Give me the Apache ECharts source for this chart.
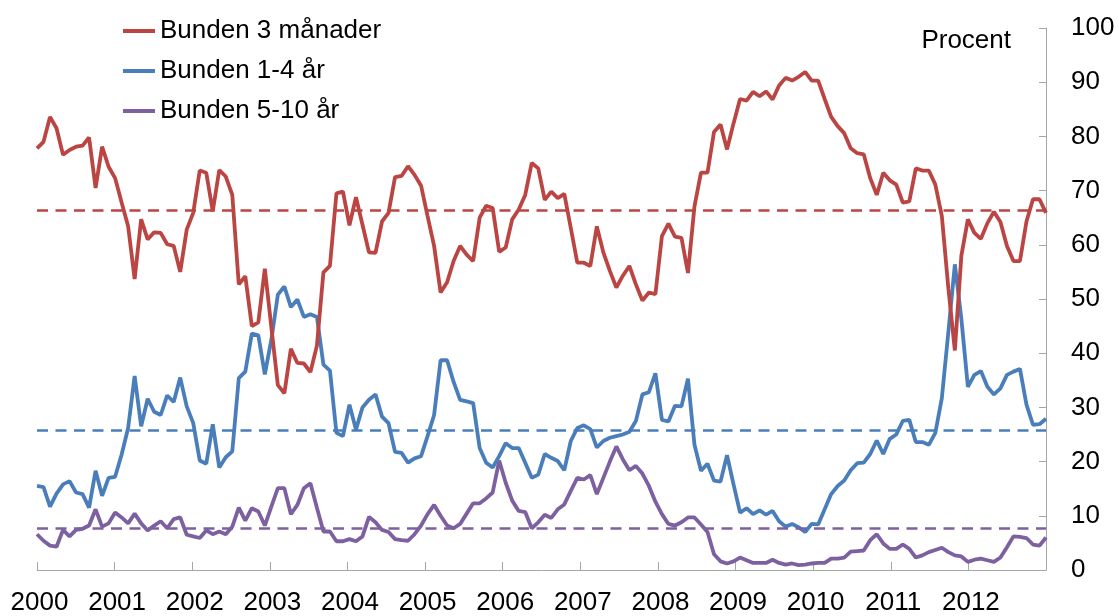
<!DOCTYPE html>
<html>
<head>
<meta charset="utf-8">
<script src="https://cdn.jsdelivr.net/npm/echarts@6/dist/echarts.min.js"></script>
<style>
  html, body { margin: 0; padding: 0; background: #fff; }
</style>
</head>
<body>
<!-- Andel nya bolån per räntebindningstid, 2000-2012 (procent) -->
<div id="chart" style="width:1119px; height:616px"></div>
<script>
// monthly categories 2000-01 .. 2012-12
var months = [];
for (var y = 2000; y <= 2012; y++) {
  for (var m = 1; m <= 12; m++) months.push(y + '-' + (m < 10 ? '0' + m : m));
}

var names = ['Bunden 3 månader', 'Bunden 1-4 år', 'Bunden 5-10 år'];
var colors = ['#BA4542', '#4A7EBB', '#7D60A0'];

var bunden3m = [
  77.8, 79, 83.6, 81.5, 76.6, 77.5, 78.1, 78.3, 79.8, 70.5, 78.1, 74.4,
  72.3, 67.8, 63.4, 53.7, 64.7, 61, 62.3, 62.2, 60.1, 59.8, 55, 62.8,
  65.9, 73.7, 73.3, 66.2, 73.8, 72.6, 69.2, 52.7, 54.2, 45, 45.7, 55.6,
  44.8, 34.1, 32.6, 40.8, 38.2, 38.1, 36.5, 41.4, 54.9, 56.1, 69.5, 69.8,
  63.6, 68.8, 63.7, 58.6, 58.5, 64.3, 65.9, 72.5, 72.7, 74.5, 72.9, 70.9,
  65.3, 59.8, 51.2, 53.1, 57, 59.8, 58.2, 57, 65, 67.2, 66.8, 58.7,
  59.5, 64.7, 66.5, 69.2, 75.1, 74.1, 68.3, 69.8, 68.6, 69.4, 63.1, 56.7,
  56.7, 56.1, 63.4, 58.6, 55.2, 52.1, 54.3, 56.1, 52.7, 49.7, 51.2, 50.9,
  61.6, 63.9, 61.5, 61.3, 54.8, 67.1, 73.3, 73.3, 80.8, 82.2, 77.6, 82.4,
  86.9, 86.6, 88.2, 87.4, 88.3, 86.8, 89.4, 90.8, 90.3, 91, 91.9, 90.3,
  90.3, 86.9, 83.6, 81.9, 80.6, 77.8, 76.9, 76.7, 72.3, 69.2, 73.3, 71.9,
  71.1, 67.8, 68, 74.1, 73.7, 73.7, 71.1, 65.3, 52, 40.5, 58, 64.7,
  62.2, 61.1, 64, 66.1, 64.2, 59.8, 57, 57, 64.3, 68.4, 68.4, 65.9
];

var bunden14 = [
  15.5, 15.3, 11.7, 14.1, 15.8, 16.4, 14.3, 14, 11.5, 18.3, 13.7, 17,
  17.2, 21.3, 26.2, 35.8, 26.5, 31.6, 29.2, 28.6, 32.2, 31, 35.5, 30.2,
  27.1, 20.2, 19.6, 26.9, 18.9, 20.8, 21.9, 35.4, 36.6, 43.6, 43.3, 36.1,
  42.5, 50.8, 52.3, 48.5, 49.9, 46.7, 47.2, 46.7, 37.9, 36.8, 25.3, 24.7,
  30.5, 25.9, 30, 31.4, 32.4, 28.3, 27.1, 21.8, 21.6, 19.8, 20.6, 21,
  24.7, 28.6, 38.7, 38.7, 34.7, 31.4, 31.1, 30.8, 22.5, 19.8, 18.9, 21,
  23.4, 22.5, 22.5, 19.8, 17, 17.6, 21.4, 20.7, 20.1, 18.4, 23.8, 26.2,
  26.7, 26, 22.6, 23.8, 24.4, 24.7, 25, 25.5, 27.5, 32.4, 32.8, 36.3,
  27.7, 27.4, 30.3, 30.2, 35.3, 23.1, 18.3, 19.6, 16.5, 16.3, 21.2, 15.8,
  10.6, 11.4, 10.3, 11, 10.2, 10.9, 9, 8, 8.5, 7.9, 7, 8.5,
  8.4, 11.2, 14, 15.5, 16.5, 18.4, 19.7, 19.8, 21.4, 23.9, 21.4, 24.2,
  25, 27.5, 27.7, 23.6, 23.6, 23.1, 25.3, 31.7, 43.9, 56.4, 46.3, 33.8,
  36, 36.7, 33.8, 32.4, 33.5, 36, 36.6, 37.1, 30.5, 26.8, 26.9, 27.9
];

var bunden510 = [
  6.6, 5.4, 4.5, 4.3, 7.4, 6.2, 7.4, 7.6, 8.2, 11.2, 8, 8.6,
  10.6, 9.7, 8.6, 10.4, 8.6, 7.3, 8.2, 9, 7.7, 9.4, 9.7, 6.5,
  6.2, 5.9, 7.3, 6.6, 7.1, 6.6, 8, 11.5, 9.1, 11.4, 10.8, 8.2,
  11.7, 15.1, 15.1, 10.3, 12, 15.1, 16, 11.5, 7.1, 7.1, 5.3, 5.3,
  5.7, 5.3, 6.2, 9.8, 8.8, 7.4, 7, 5.7, 5.5, 5.4, 6.6, 8.2,
  10.3, 12, 10, 8.2, 7.7, 8.5, 10.4, 12.3, 12.3, 13.2, 14.3, 20.2,
  16.1, 12.8, 10.9, 10.7, 7.7, 8.8, 10.2, 9.6, 11.2, 12.1, 14.6, 17,
  16.7, 17.5, 14, 17, 20, 22.8, 20.4, 18.4, 19.2, 17.8, 15.5, 12.6,
  10.3, 8.5, 8.2, 8.8, 9.7, 9.7, 8.4, 7, 2.9, 1.6, 1.2, 1.6,
  2.3, 1.8, 1.3, 1.3, 1.3, 1.9, 1.3, 1, 1.2, 0.9, 1, 1.2,
  1.3, 1.3, 2.1, 2.1, 2.3, 3.4, 3.5, 3.6, 5.5, 6.6, 4.9, 3.9,
  3.9, 4.7, 3.9, 2.3, 2.7, 3.3, 3.7, 4.1, 3.3, 2.7, 2.5, 1.5,
  1.9, 2.1, 1.8, 1.5, 2.3, 4.2, 6.2, 6.1, 5.9, 4.7, 4.5, 6
];

// genomsnitt (streckade linjer)
var means = [66.3, 25.8, 7.7];

var values = [bunden3m, bunden14, bunden510];

var chartDom = document.getElementById('chart');
var myChart = echarts.init(chartDom, null, { renderer: 'canvas' });
var font = 'Liberation Sans, Arial, sans-serif';

var series = values.map(function (data, k) {
  return {
    name: names[k],
    type: 'line',
    xAxisIndex: 0,
    data: data,
    showSymbol: false,
    symbol: 'none',
    lineStyle: { color: colors[k], width: 3.8 },
    itemStyle: { color: colors[k] },
    markLine: {
      silent: true,
      symbol: ['none', 'none'],
      label: { show: false },
      lineStyle: { color: colors[k], width: 2.5, type: [11, 7.5] },
      data: [{ yAxis: means[k] }]
    },
    z: 3 - k
  };
});

var option = {
  animation: false,
  textStyle: { fontFamily: font },
  grid: { left: 37, right: 73, top: 28, bottom: 43 },
  legend: {
    data: names,
    orient: 'vertical',
    left: 123,
    top: 11,
    padding: 0,
    icon: 'rect',
    itemWidth: 32,
    itemHeight: 4,
    itemGap: 0,
    textStyle: { fontSize: 26, color: '#000', fontFamily: font, lineHeight: 40 }
  },
  graphic: [{
    type: 'text',
    right: 108,
    top: 28,
    style: { text: 'Procent', fontSize: 26, fill: '#000', fontFamily: font }
  }],
  xAxis: [
    {
      type: 'category',
      data: months,
      boundaryGap: false,
      position: 'top',
      show: false
    },
    {
      type: 'value',
      min: 2000,
      max: 2013,
      interval: 1,
      position: 'bottom',
      axisLine: { show: true, lineStyle: { color: '#A6A6A6', width: 1 } },
      axisTick: { show: true, inside: true, length: 8, lineStyle: { color: '#A6A6A6' } },
      splitLine: { show: false },
      axisLabel: {
        fontSize: 26,
        color: '#000',
        margin: 20,
        padding: [0, 0, 0, 5],
        fontFamily: font,
        formatter: function (v) { return v === 2013 ? '' : String(v); }
      }
    }
  ],
  yAxis: {
    type: 'value',
    position: 'right',
    min: 0,
    max: 100,
    interval: 10,
    axisLine: { show: true, lineStyle: { color: '#A6A6A6', width: 1 } },
    axisTick: { show: true, inside: true, length: 7, lineStyle: { color: '#A6A6A6' } },
    splitLine: { show: false },
    axisLabel: { fontSize: 26, color: '#000', margin: 25, fontFamily: font }
  },
  series: series
};

option && myChart.setOption(option);
</script>
</body>
</html>
